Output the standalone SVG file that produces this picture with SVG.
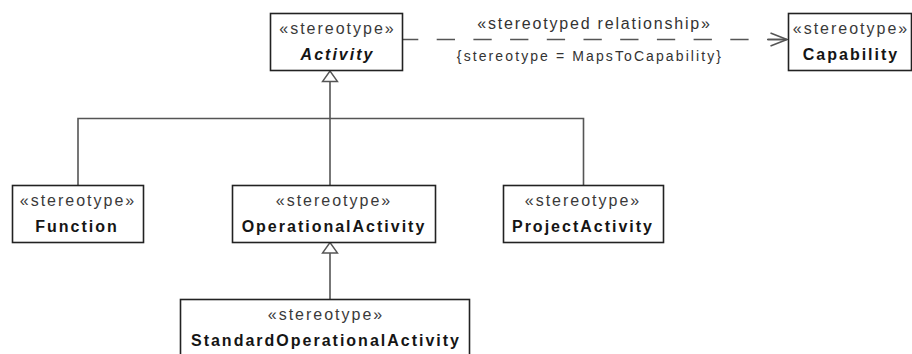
<svg xmlns="http://www.w3.org/2000/svg" width="912" height="354" viewBox="0 0 912 354">
<style>
  .box { fill: #ffffff; stroke: #222222; stroke-width: 1.6; }
  .st { font-family: "Liberation Sans", Arial, sans-serif; font-size: 16px; letter-spacing: 2px; fill: #3a3a3a; text-anchor: middle; }
  .nm { font-family: "Liberation Sans", Arial, sans-serif; font-size: 16px; letter-spacing: 2px; font-weight: bold; fill: #151515; text-anchor: middle; }
  .conn { fill: none; stroke: #555555; stroke-width: 1.6; }
  .tri { fill: #ffffff; stroke: #555555; stroke-width: 1.4; }
  .lbl { font-family: "Liberation Sans", Arial, sans-serif; fill: #333333; text-anchor: middle; }
</style>
<rect width="912" height="354" fill="#ffffff"/>

<g id="connectors">
  <!-- dependency Activity -> Capability -->
  <line class="conn" x1="403" y1="39.5" x2="786" y2="39.5" stroke-dasharray="18.3 18.4" stroke-dashoffset="3"/>
  <line class="conn" x1="768" y1="39.5" x2="787" y2="39.5"/>
  <polyline class="conn" points="770.5,33 787,39.5 770.5,46"/>
  <text class="lbl" x="594.5" y="29" font-size="16" letter-spacing="1.8">«stereotyped relationship»</text>
  <text class="lbl" x="590" y="60.5" font-size="14" letter-spacing="2.1">{stereotype = MapsToCapability}</text>

  <!-- generalization to Activity -->
  <polyline class="conn" points="78,185.5 78,118.5 583.5,118.5 583.5,185.5"/>
  <line class="conn" x1="330" y1="81.5" x2="330" y2="185.5"/>
  <polygon class="tri" points="330,71 322.5,81.5 337.5,81.5"/>

  <!-- generalization StandardOperationalActivity -> OperationalActivity -->
  <line class="conn" x1="330" y1="253" x2="330" y2="299.5"/>
  <polygon class="tri" points="330,242.5 322.5,253 337.5,253"/>
</g>

<g id="activity">
  <rect class="box" x="270.5" y="13.5" width="132" height="57"/>
  <text class="st" x="337.5" y="34">«stereotype»</text>
  <text class="nm" x="337.5" y="60" font-style="italic">Activity</text>
</g>

<g id="capability">
  <rect class="box" x="788.5" y="13.5" width="123" height="57"/>
  <text class="st" x="851" y="34">«stereotype»</text>
  <text class="nm" x="851" y="60">Capability</text>
</g>

<g id="function">
  <rect class="box" x="12.5" y="185.5" width="131" height="57"/>
  <text class="st" x="78" y="205.5">«stereotype»</text>
  <text class="nm" x="77" y="231.5">Function</text>
</g>

<g id="operationalActivity">
  <rect class="box" x="232.5" y="185.5" width="203" height="57"/>
  <text class="st" x="334" y="205.5">«stereotype»</text>
  <text class="nm" x="334" y="231.5">OperationalActivity</text>
</g>

<g id="projectActivity">
  <rect class="box" x="503.5" y="185.5" width="160" height="57"/>
  <text class="st" x="583" y="205.5">«stereotype»</text>
  <text class="nm" x="583" y="231.5">ProjectActivity</text>
</g>

<g id="standardOperationalActivity">
  <rect class="box" x="180.5" y="299.5" width="289" height="62"/>
  <text class="st" x="326" y="319.5">«stereotype»</text>
  <text class="nm" x="326" y="345.5">StandardOperationalActivity</text>
</g>
</svg>
